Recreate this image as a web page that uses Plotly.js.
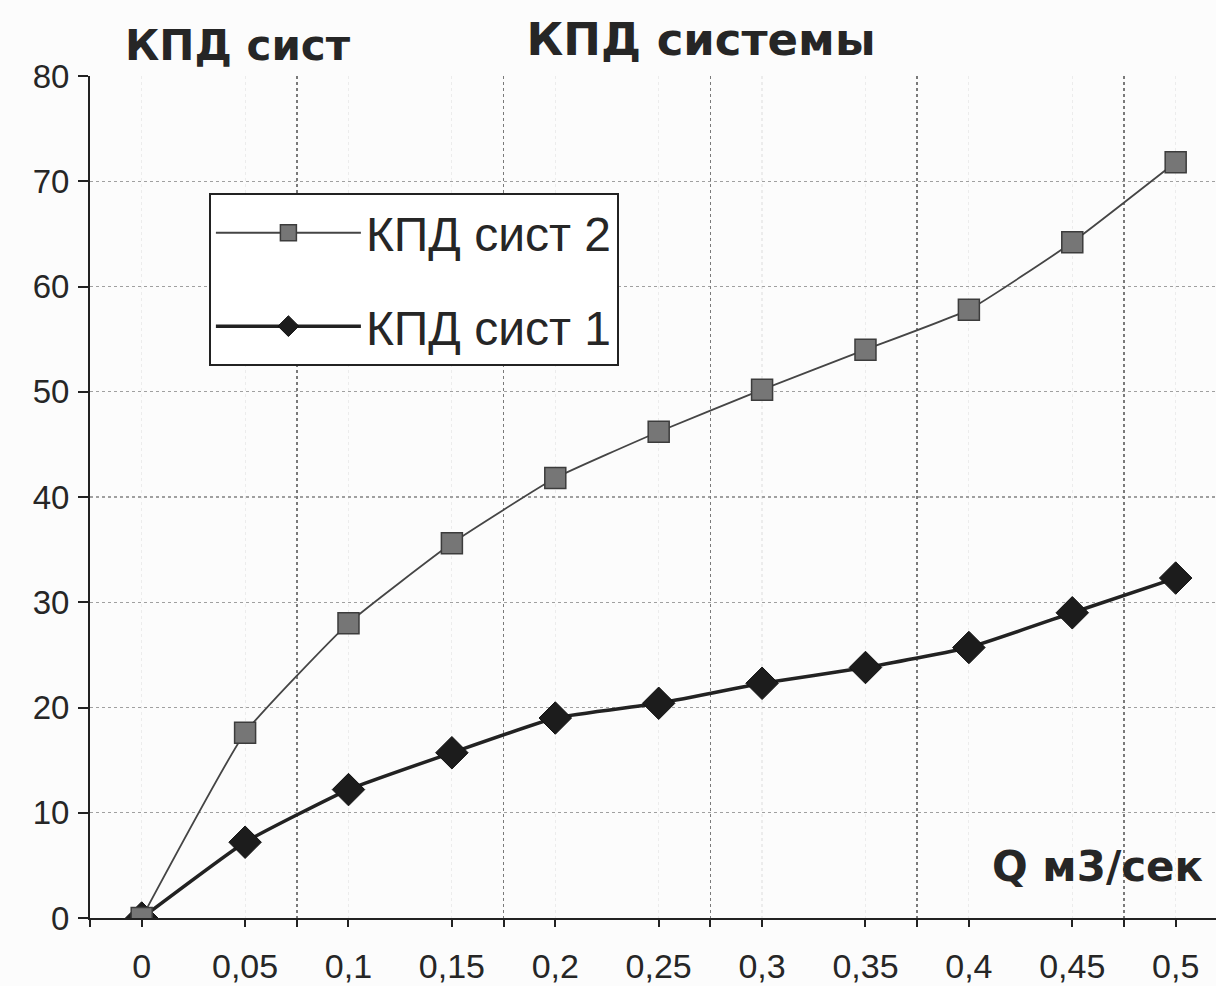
<!DOCTYPE html>
<html>
<head>
<meta charset="utf-8">
<script src="https://cdn.plot.ly/plotly-3.0.1.min.js"></script>
<style>
  html, body { margin: 0; padding: 0; background: #fcfcfc; }
  #chart { width: 1216px; height: 986px; }
</style>
</head>
<body>
<div id="chart"></div>
<script>
// Flow rate categories, Q (m3/s)
const flowLabels = ['0', '0,05', '0,1', '0,15', '0,2', '0,25', '0,3', '0,35', '0,4', '0,45', '0,5'];
// System efficiency, %
const effSystem2 = [0, 17.6, 28.0, 35.6, 41.8, 46.2, 50.2, 54.0, 57.8, 64.2, 71.8];
const effSystem1 = [0, 7.2, 12.2, 15.7, 19.0, 20.4, 22.3, 23.8, 25.7, 29.0, 32.3];
const seriesNames = ['КПД сист 2', 'КПД сист 1'];
const yTicks = [0, 10, 20, 30, 40, 50, 60, 70, 80];

const positions = flowLabels.map((_, i) => i);
const xRange = [-0.5, 10.39];
const ink = '#262626';
const fontFamily = 'Liberation Sans, Arial, sans-serif';
const headFamily = 'DejaVu Sans, Liberation Sans, sans-serif';

// x  : category labels at the centre of each slot
// x2 : same scale, tick marks and gridlines on the slot boundaries
const traces = [
  {
    x: positions, y: effSystem1, name: seriesNames[1], type: 'scatter', mode: 'lines+markers',
    xaxis: 'x', yaxis: 'y', legendrank: 2,
    line: { color: '#222', width: 3.5, shape: 'spline', smoothing: 0.4 },
    marker: { symbol: 'diamond', size: 25, color: '#1c1c1c', line: { color: '#111', width: 1 } },
    legendgroup: 'b'
  },
  {
    x: positions, y: effSystem2, name: seriesNames[0], type: 'scatter', mode: 'lines+markers',
    xaxis: 'x2', yaxis: 'y', legendrank: 1,
    line: { color: '#454545', width: 1.8, shape: 'spline', smoothing: 0.4 },
    marker: { symbol: 'square', size: 21, color: '#767676', line: { color: '#3c3c3c', width: 1.5 } },
    legendgroup: 'a'
  }
];

const layout = {
  width: 1216, height: 986,
  margin: { l: 90, r: 0, t: 76, b: 68 },
  paper_bgcolor: '#fcfcfc', plot_bgcolor: '#fcfcfc',
  font: { family: fontFamily, color: ink },
  showlegend: true,
  title: {
    text: '<b>КПД системы</b>',
    x: 0.5765, xanchor: 'center', y: 0.96, yanchor: 'middle',
    font: { size: 45, color: ink, family: headFamily }
  },
  xaxis: {
    type: 'linear', range: xRange,
    tickmode: 'array', tickvals: positions, ticktext: flowLabels,
    ticks: '', showgrid: false, zeroline: false,
    showline: true, linecolor: '#222', linewidth: 2,
    tickfont: { size: 34, color: ink }, ticklabelstandoff: 17
  },
  xaxis2: {
    type: 'linear', range: xRange, overlaying: 'x', anchor: 'y', side: 'bottom',
    tickmode: 'linear', tick0: 1.5, dtick: 2,
    ticks: 'outside', ticklen: 8, tickwidth: 2, tickcolor: '#222',
    showticklabels: false, zeroline: false, showline: false,
    showgrid: true, gridcolor: '#7a7a7a', gridwidth: 1.5, griddash: 'dot',
    minor: {
      dtick: 1, ticks: 'outside', ticklen: 8, tickwidth: 2, tickcolor: '#222',
      showgrid: true, gridcolor: '#ececec', gridwidth: 1.2, griddash: 'dot'
    }
  },
  yaxis: {
    range: [0, 80], tickmode: 'array', tickvals: yTicks,
    ticks: 'outside', ticklen: 10, tickwidth: 2, tickcolor: '#222',
    showline: true, linecolor: '#222', linewidth: 2, zeroline: false,
    showgrid: true, gridcolor: '#a0a0a0', gridwidth: 1.2, griddash: 'dot',
    tickfont: { size: 33, color: ink }, ticklabelstandoff: 2
  },
  legend: {
    x: 0.1056, y: 0.861, xanchor: 'left', yanchor: 'top',
    bgcolor: '#ffffff', bordercolor: '#222', borderwidth: 2,
    font: { size: 48, color: ink, family: fontFamily },
    traceorder: 'grouped', tracegroupgap: 28, itemwidth: 145
  },
  annotations: [
    {
      text: '<b>КПД сист</b>', xref: 'paper', yref: 'paper', x: 0.131, y: 1.036,
      xanchor: 'center', yanchor: 'middle', showarrow: false,
      font: { size: 42, color: ink, family: headFamily }
    },
    {
      text: '<b>Q м3/сек</b>', xref: 'paper', yref: 'paper', x: 0.895, y: 0.061,
      xanchor: 'center', yanchor: 'middle', showarrow: false,
      font: { size: 42, color: ink, family: headFamily }
    }
  ]
};

Plotly.newPlot('chart', traces, layout, { displayModeBar: false, staticPlot: true });
</script>
</body>
</html>
